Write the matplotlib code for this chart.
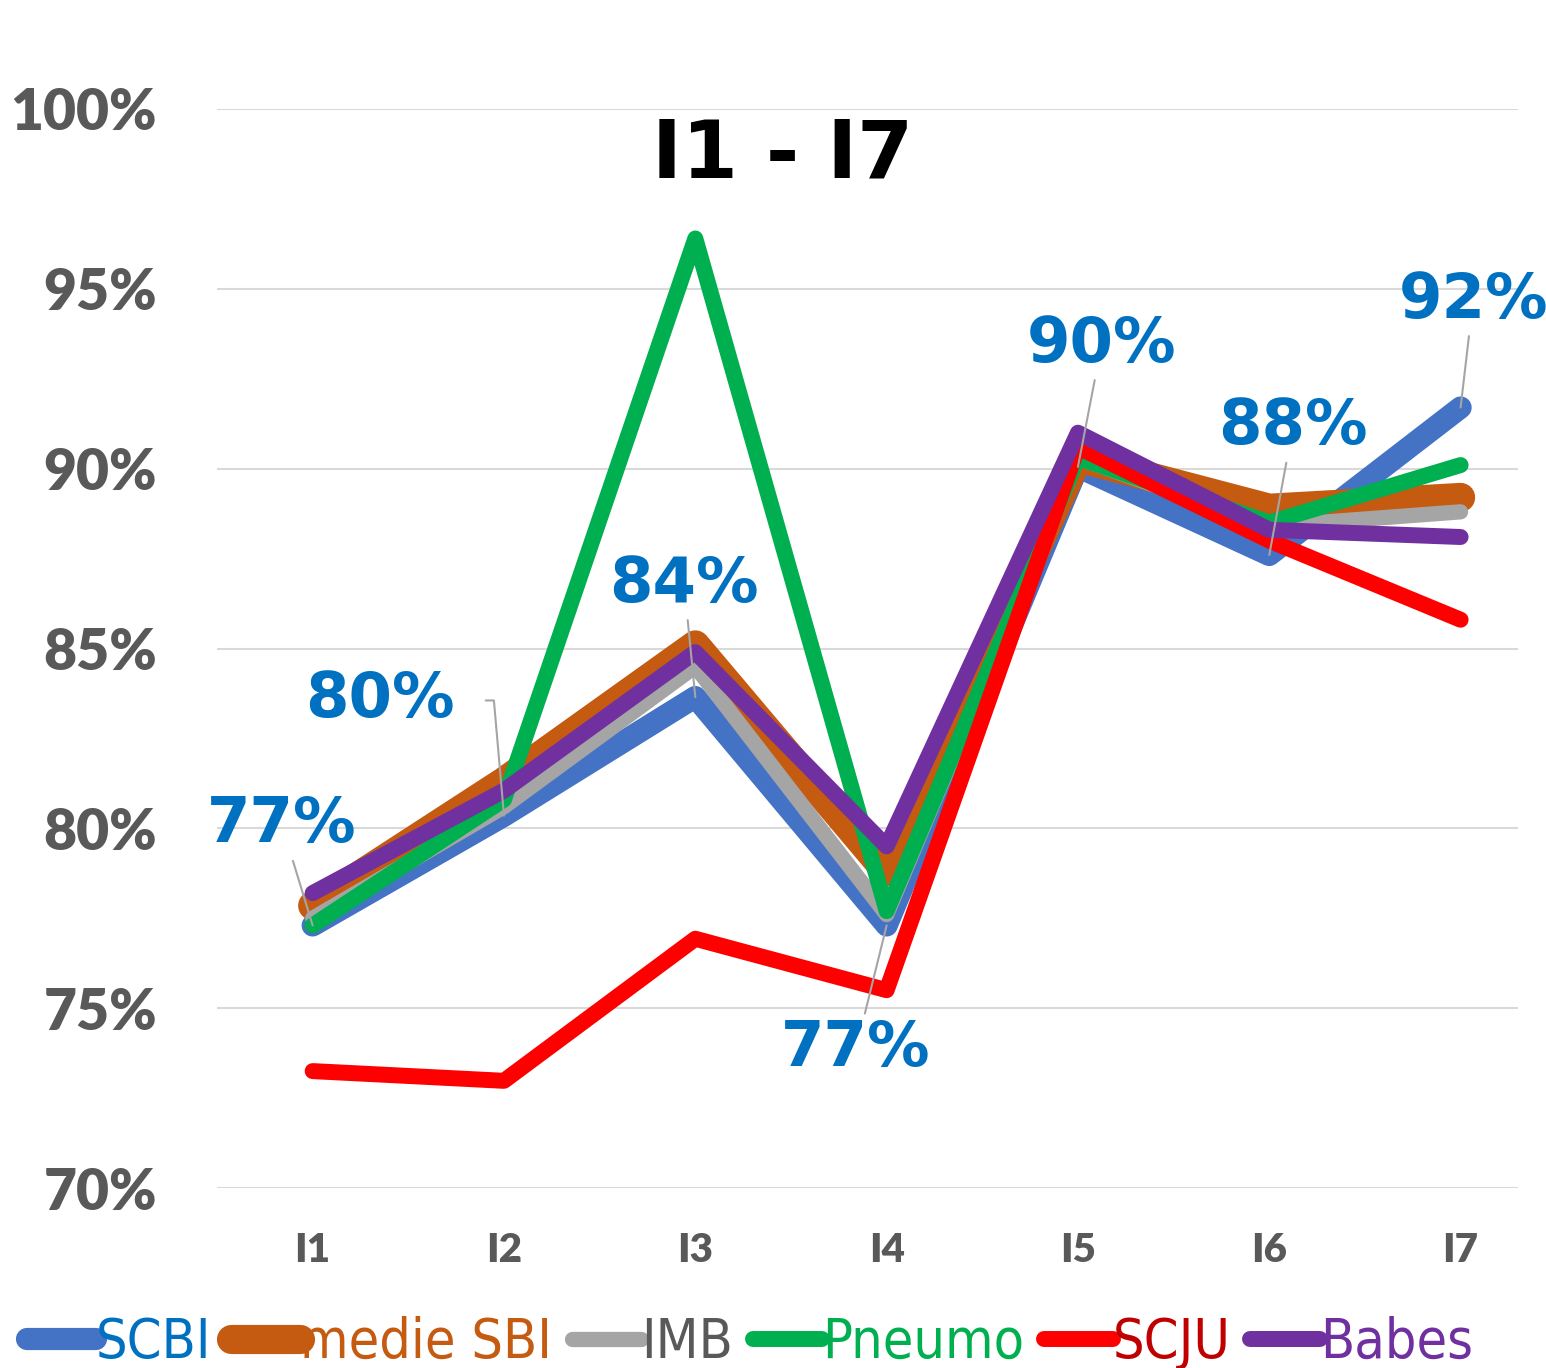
import matplotlib
matplotlib.use('Agg')
import matplotlib.pyplot as plt
from matplotlib.ticker import PercentFormatter

categories = ['I1', 'I2', 'I3', 'I4', 'I5', 'I6', 'I7']

scbi = [77.3, 80.35, 83.65, 77.3, 90.05, 87.6, 91.7]
medie_sbi = [77.85, 81.3, 85.1, 78.8, 90.3, 88.9, 89.2]
imb = [77.5, 80.6, 84.5, 77.6, 90.3, 88.4, 88.8]
pneumo = [77.3, 80.8, 96.4, 77.7, 90.3, 88.5, 90.1]
scju = [73.25, 72.98, 76.93, 75.5, 90.6, 88.0, 85.8]
babes = [78.2, 81.05, 84.9, 79.5, 91.0, 88.3, 88.1]

series = [
    ('SCBI', scbi, '#4472C4', '#0070C0', 16),
    ('medie SBI', medie_sbi, '#C55A11', '#C55A11', 21),
    ('IMB', imb, '#A5A5A5', '#595959', 11),
    ('Pneumo', pneumo, '#00B050', '#00B050', 11.5),
    ('SCJU', scju, '#FF0000', '#C00000', 11.5),
    ('Babes', babes, '#7030A0', '#7030A0', 11.5),
]

# label offsets (points) for the SCBI data labels
label_offsets = [(-22, 72), (-89, 83), (-8, 81), (-22, -89), (17, 88), (17, 92), (9, 77)]

fig = plt.figure(figsize=(15.46, 13.68), dpi=100)
ax = fig.add_axes([217 / 1546, 1 - 1188 / 1368, (1518 - 217) / 1546, (1188 - 109) / 1368])

x = list(range(len(categories)))
handles = []
for name, vals, color, tcolor, lw in series:
    line, = ax.plot(x, vals, color=color, lw=lw, solid_capstyle='round',
                    solid_joinstyle='round', label=name, clip_on=False)
    handles.append(line)

ax.set_ylim(70, 100)
ax.set_xlim(-0.5, 6.3)
ax.set_yticks([70, 75, 80, 85, 90, 95, 100])
ax.yaxis.set_major_formatter(PercentFormatter(decimals=0))
ax.set_xticks(x)
ax.set_xticklabels(categories)
ax.grid(axis='y', color='#D9D9D9', lw=1.5)
ax.set_axisbelow(True)
for s in ax.spines.values():
    s.set_visible(False)
ax.tick_params(length=0)
ax.tick_params(axis='y', pad=43)
ax.tick_params(axis='x', pad=32)
for t in ax.get_yticklabels():
    t.set_fontfamily('Lato')
    t.set_fontweight('heavy')
    t.set_fontsize(41)
    t.set_color('#595959')
for t in ax.get_xticklabels():
    t.set_fontfamily('Lato')
    t.set_fontweight('heavy')
    t.set_fontsize(29)
    t.set_color('#595959')

# data labels for SCBI with leader lines
for i, (v, off) in enumerate(zip(scbi, label_offsets)):
    cs = 'angle,angleA=0,angleB=95,rad=0' if i == 1 else 'arc3'
    ax.annotate(f'{v:.0f}%', xy=(i, v), xytext=off, textcoords='offset points',
                ha='center', va='center', fontsize=45, fontweight='bold',
                family='DejaVu Sans', color='#0070C0',
                arrowprops=dict(arrowstyle='-', color='#A5A5A5', lw=1.5,
                                connectionstyle=cs, shrinkA=20 if i == 1 else 2,
                                shrinkB=0))

fig.text(783 / 1546, 1 - 155 / 1368, 'I1 - I7', ha='center', va='center',
         fontsize=58, fontweight='bold', family='DejaVu Sans', color='black')

leg = fig.legend(handles=handles, loc='center', bbox_to_anchor=(0.485, 1 - 1343 / 1368),
                 ncol=6, frameon=False, handlelength=1.25, handletextpad=0.0,
                 columnspacing=0.35, borderaxespad=0,
                 prop={'family': 'DejaVu Sans', 'stretch': 'condensed', 'size': 40})
for text, s in zip(leg.get_texts(), series):
    text.set_color(s[3])

fig.savefig('out.png', dpi=100)
